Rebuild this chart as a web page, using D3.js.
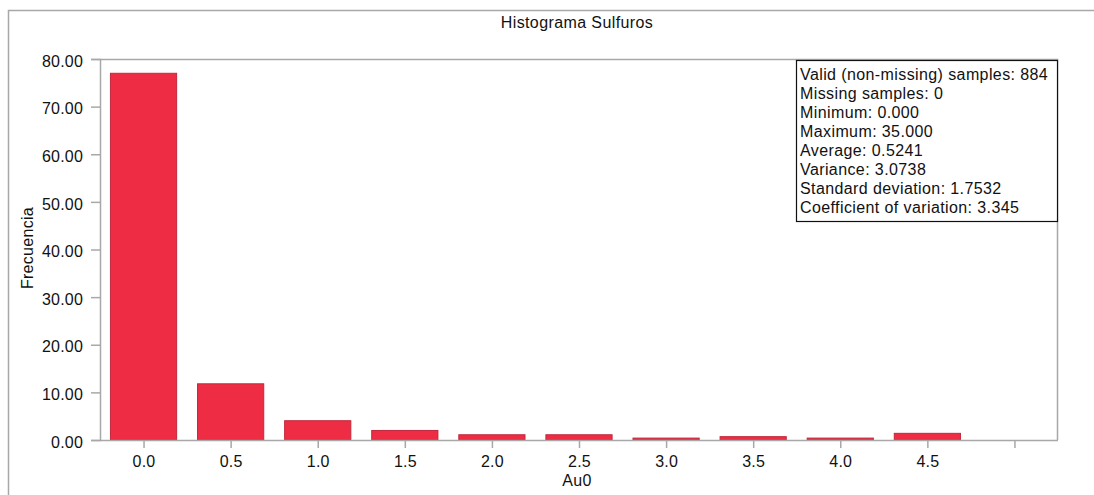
<!DOCTYPE html>
<html>
<head>
<meta charset="utf-8">
<script src="https://cdn.jsdelivr.net/npm/d3@7"></script>
<style>
  html, body { margin: 0; padding: 0; background: #fff; }
  svg { display: block; }
  text { font-family: "Liberation Sans", Arial, sans-serif; fill: #111; }
</style>
</head>
<body>
<svg id="chart" width="1094" height="495"></svg>
<script>
// Histogram bins (bin start of Au0) and relative frequency in percent
const binStarts = [0.0, 0.5, 1.0, 1.5, 2.0, 2.5, 3.0, 3.5, 4.0, 4.5];
const frequencies = [77.0, 11.8, 4.05, 2.0, 1.1, 1.1, 0.4, 0.7, 0.4, 1.4];

// Axis ticks
const xTickValues = [0.0, 0.5, 1.0, 1.5, 2.0, 2.5, 3.0, 3.5, 4.0, 4.5, 5.0];
const xTickLabels = ["0.0", "0.5", "1.0", "1.5", "2.0", "2.5", "3.0", "3.5", "4.0", "4.5", ""];
const yTickValues = [0, 10, 20, 30, 40, 50, 60, 70, 80];
const yTickLabels = ["0.00", "10.00", "20.00", "30.00", "40.00", "50.00", "60.00", "70.00", "80.00"];

// Summary statistics block
const statsLines = [
  "Valid (non-missing) samples: 884",
  "Missing samples: 0",
  "Minimum: 0.000",
  "Maximum: 35.000",
  "Average: 0.5241",
  "Variance: 3.0738",
  "Standard deviation: 1.7532",
  "Coefficient of variation: 3.345"
];

const title = "Histograma Sulfuros";
const xTitle = "Au0";
const yTitle = "Frecuencia";

const svg = d3.select("#chart");
const axisColor = "#a8a8a8";
const fontSize = 16;

const plot = { left: 100, right: 1058, top: 59, bottom: 440 };

// Outer frame
svg.append("path")
  .attr("d", `M8.5,495 V10.5 H1094`)
  .attr("fill", "none")
  .attr("stroke", axisColor)
  .attr("stroke-width", 1.5);

const x = d3.scaleLinear().domain([-0.25, 5.25]).range([plot.left, plot.right]);
const y = d3.scaleLinear().domain([0, 80]).range([plot.bottom, plot.top]);
const binWidth = 0.38;

// Plot frame (top and right)
svg.append("path")
  .attr("d", `M${plot.left},${plot.top + 0.5} H${plot.right - 0.5} V${plot.bottom}`)
  .attr("fill", "none")
  .attr("stroke", axisColor)
  .attr("stroke-width", 1.5);

// Bars
svg.append("g").selectAll("rect")
  .data(binStarts.map((b, i) => ({ b, v: frequencies[i] })))
  .join("rect")
  .attr("x", d => x(d.b - binWidth / 2))
  .attr("width", d => x(d.b + binWidth / 2) - x(d.b - binWidth / 2))
  .attr("y", d => y(d.v))
  .attr("height", d => y(0) - y(d.v))
  .attr("fill", "#ee2d45")
  .attr("stroke", "#c2283b")
  .attr("stroke-width", 1);

// Y axis
const yAxis = d3.axisLeft(y)
  .tickValues(yTickValues)
  .tickFormat((d, i) => yTickLabels[i])
  .tickSize(9)
  .tickPadding(8);
const gy = svg.append("g").attr("transform", `translate(${plot.left},0)`).call(yAxis);
gy.select(".domain").attr("stroke", axisColor).attr("stroke-width", 1.5);
gy.selectAll(".tick line").attr("stroke", axisColor).attr("stroke-width", 1.5);
gy.selectAll(".tick text")
  .attr("font-size", fontSize)
  .attr("font-family", "Liberation Sans, Arial, sans-serif")
  .attr("fill", "#111")
  .attr("letter-spacing", 0.2)
  .attr("dy", "0.45em");

// X axis
const xAxis = d3.axisBottom(x)
  .tickValues(xTickValues)
  .tickFormat((d, i) => xTickLabels[i])
  .tickSize(8)
  .tickPadding(8);
const gx = svg.append("g").attr("transform", `translate(0,${plot.bottom})`).call(xAxis);
gx.select(".domain").attr("stroke", axisColor).attr("stroke-width", 1.5).attr("d", `M${plot.left},0.5H${plot.right}`);
gx.selectAll(".tick line").attr("stroke", axisColor).attr("stroke-width", 1.5);
gx.selectAll(".tick text")
  .attr("font-size", fontSize)
  .attr("font-family", "Liberation Sans, Arial, sans-serif")
  .attr("fill", "#111")
  .attr("letter-spacing", 0.2);

// Titles
svg.append("text")
  .attr("x", 577).attr("y", 28)
  .attr("text-anchor", "middle")
  .attr("font-size", fontSize)
  .attr("letter-spacing", 0.4)
  .text(title);

svg.append("text")
  .attr("x", 577).attr("y", 486)
  .attr("text-anchor", "middle")
  .attr("font-size", fontSize)
  .attr("letter-spacing", 0.3)
  .text(xTitle);

svg.append("text")
  .attr("transform", `translate(33,248) rotate(-90)`)
  .attr("text-anchor", "middle")
  .attr("font-size", fontSize)
  .attr("letter-spacing", 0.3)
  .text(yTitle);

// Statistics box
const box = { x: 796, y: 60, w: 261, h: 161 };
svg.append("rect")
  .attr("x", box.x + 0.5).attr("y", box.y + 0.5)
  .attr("width", box.w).attr("height", box.h)
  .attr("fill", "#fff")
  .attr("stroke", "#111")
  .attr("stroke-width", 1.2);

svg.append("g").selectAll("text")
  .data(statsLines)
  .join("text")
  .attr("x", box.x + 4)
  .attr("y", (d, i) => box.y + 20 + i * 18.95)
  .attr("font-size", fontSize)
  .attr("letter-spacing", 0.4)
  .text(d => d);
</script>
</body>
</html>
